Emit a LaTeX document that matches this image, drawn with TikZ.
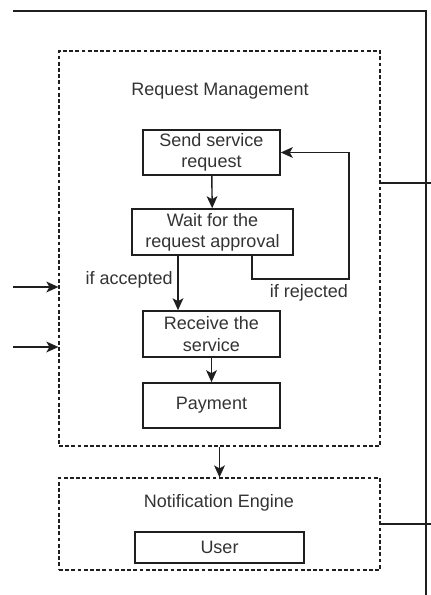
\documentclass[tikz,border=0pt]{standalone}
\usepackage{fontspec}
\setmainfont{Liberation Sans}
\usetikzlibrary{arrows.meta}
\begin{document}
\begin{tikzpicture}[x=0.5pt,y=-0.5pt,
  ink/.style={draw=black!88, line width=0.7pt},
  arr/.style={ink, -{Stealth[length=6pt,width=5.4pt,inset=1.5pt]}},
  group/.style={draw=black!88, line width=0.6pt, dash pattern=on 1.9pt off 1.2pt,
                inner sep=0pt, minimum width=160.5pt},
  stepbox/.style={draw=black!88, line width=0.8pt, inner sep=0pt, align=center,
                  font=\fontsize{9}{10.6}\selectfont, text=black!80},
  lbl/.style={font=\fontsize{9}{10.6}\selectfont, text=black!80, inner sep=0pt}]
\useasboundingbox (0,0) rectangle (431,595);

% dashed containers
\node[group, minimum height=197.5pt] (rm) at (219.5,248.5) {};
\node[group, minimum height=46pt] (ne) at (219.5,524) {};
\node[lbl] (rmtitle) at (220,91) {Request Management};
\node[lbl] (netitle) at (219,503) {Notification Engine};

% process steps
\node[stepbox, minimum width=68.5pt, minimum height=22.5pt] (send) at (211.5,152.5) {Send service\\request};
\node[stepbox, minimum width=80.5pt, minimum height=23pt] (wait) at (212.5,232) {Wait for the\\request approval};
\node[stepbox, minimum width=68.5pt, minimum height=23pt] (receive) at (211.5,334) {Receive the\\service};
\node[stepbox, minimum width=68.5pt, minimum height=22.5pt] (payment) at (211.5,405.5) {Payment};
\node[stepbox, minimum width=84.5pt, minimum height=15.5pt] (user) at (219.5,547.5) {User};

% helper points
\coordinate (accx) at (178,0);
\coordinate (rejx) at (252,0);
\coordinate (loop) at (349,279);
\coordinate (start) at (13,11);
\coordinate (corner) at (426,11);
\coordinate (bottom) at (426,595);
\coordinate (out1) at (431,183);
\coordinate (edge) at (431,0);
\coordinate (in1) at (13,287);
\coordinate (in2) at (13,347);

% flow
\draw[arr] (send) -- (wait);
\draw[arr] (wait.south -| accx) -- (receive.north -| accx);
\node[lbl, anchor=east] (acc) at (173,280) {if accepted};
\draw[arr] (wait.south -| rejx) |- (loop) |- (send.east);
\node[lbl] (rej) at (309,293) {if rejected};
\draw[arr] (receive) -- (payment);
\draw[arr] (rm.south) -- (ne.north);

% external links
\draw[ink] (start) -- (corner) -- (bottom);
\draw[ink] (rm.east |- out1) -- (out1);
\draw[ink] (ne.east) -- (ne.east -| edge);
\draw[arr] (in1) -- (in1 -| rm.west);
\draw[arr] (in2) -- (in2 -| rm.west);
\end{tikzpicture}
\end{document}
